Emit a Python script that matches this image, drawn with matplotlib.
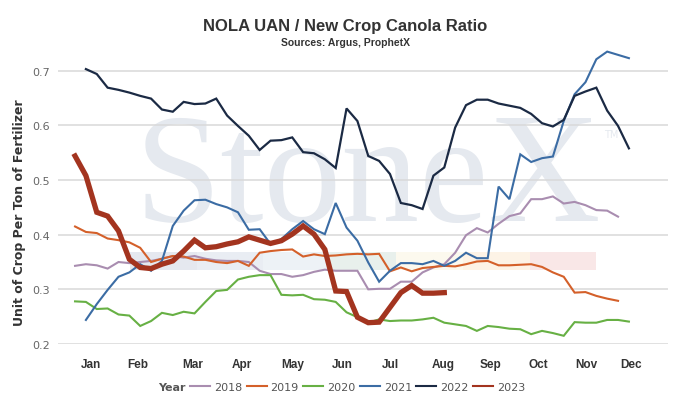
import matplotlib
matplotlib.use("Agg")
import matplotlib.pyplot as plt
from matplotlib import font_manager
from matplotlib.lines import Line2D
from matplotlib.patches import Rectangle

# weekly ratio values
years = ['2018', '2019', '2020', '2021', '2022', '2023']
first_week = [0, 0, 0, 1, 1, 0]

ratio_2018 = [0.343, 0.346, 0.344, 0.338, 0.350, 0.348, 0.350, 0.352, 0.356, 0.361, 0.358, 0.361, 0.356, 0.353,
              0.352, 0.352, 0.350, 0.334, 0.328, 0.328, 0.323, 0.326, 0.332, 0.336, 0.334, 0.334, 0.334, 0.300,
              0.301, 0.301, 0.314, 0.314, 0.331, 0.340, 0.346, 0.367, 0.399, 0.412, 0.404, 0.420, 0.434, 0.439,
              0.465, 0.465, 0.470, 0.457, 0.460, 0.454, 0.445, 0.444, 0.433]
ratio_2019 = [0.415, 0.405, 0.403, 0.393, 0.390, 0.386, 0.376, 0.350, 0.356, 0.361, 0.360, 0.354, 0.354, 0.350,
              0.348, 0.352, 0.343, 0.367, 0.370, 0.372, 0.373, 0.360, 0.364, 0.361, 0.362, 0.364, 0.365, 0.364,
              0.365, 0.333, 0.340, 0.333, 0.339, 0.341, 0.343, 0.342, 0.346, 0.351, 0.352, 0.344, 0.344, 0.345,
              0.346, 0.341, 0.331, 0.323, 0.294, 0.295, 0.288, 0.283, 0.279]
ratio_2020 = [0.278, 0.277, 0.264, 0.265, 0.254, 0.252, 0.233, 0.242, 0.257, 0.253, 0.259, 0.256, 0.277, 0.297,
              0.299, 0.318, 0.323, 0.326, 0.326, 0.290, 0.289, 0.290, 0.282, 0.281, 0.277, 0.258, 0.249, 0.239,
              0.245, 0.242, 0.243, 0.243, 0.245, 0.248, 0.239, 0.236, 0.233, 0.224, 0.233, 0.231, 0.228, 0.227,
              0.218, 0.224, 0.220, 0.215, 0.240, 0.239, 0.239, 0.244, 0.244, 0.241]
ratio_2021 = [0.244, 0.273, 0.299, 0.323, 0.331, 0.346, 0.334, 0.352, 0.416, 0.444, 0.463, 0.464, 0.456,
              0.450, 0.441, 0.409, 0.410, 0.383, 0.392, 0.410, 0.425, 0.410, 0.401, 0.458, 0.413, 0.389, 0.349,
              0.314, 0.334, 0.348, 0.348, 0.346, 0.352, 0.343, 0.352, 0.367, 0.357, 0.357, 0.488, 0.465, 0.547,
              0.533, 0.540, 0.543, 0.608, 0.657, 0.679, 0.721, 0.735, 0.729, 0.723]
ratio_2022 = [0.703, 0.694, 0.669, 0.665, 0.660, 0.654, 0.649, 0.629, 0.625, 0.643, 0.639, 0.640, 0.649,
              0.618, 0.599, 0.581, 0.555, 0.572, 0.573, 0.578, 0.551, 0.549, 0.538, 0.522, 0.631, 0.608, 0.544,
              0.535, 0.511, 0.458, 0.454, 0.447, 0.508, 0.523, 0.596, 0.637, 0.647, 0.647, 0.640, 0.636, 0.632,
              0.621, 0.604, 0.598, 0.610, 0.654, 0.662, 0.669, 0.627, 0.599, 0.558]
ratio_2023 = [0.544, 0.508, 0.441, 0.434, 0.407, 0.355, 0.340, 0.338, 0.346, 0.352, 0.370, 0.390, 0.376, 0.378,
              0.383, 0.387, 0.396, 0.390, 0.384, 0.389, 0.401, 0.416, 0.401, 0.373, 0.297, 0.296, 0.249, 0.239,
              0.240, 0.267, 0.294, 0.307, 0.293, 0.293, 0.294]

months = ['Jan', 'Feb', 'Mar', 'Apr', 'May', 'Jun', 'Jul', 'Aug', 'Sep', 'Oct', 'Nov', 'Dec']
month_week = [1.47, 5.80, 10.87, 15.38, 20.07, 24.59, 29.01, 33.89, 38.21, 42.63, 47.05, 51.20]
y_ticks = [0.2, 0.3, 0.4, 0.5, 0.6, 0.7]

all_ratios = [ratio_2018, ratio_2019, ratio_2020, ratio_2021, ratio_2022, ratio_2023]
colors = ['#a98db0', '#d4602a', '#67b044', '#3b6ca4', '#1b2a44', '#a3341f']
widths = [1.5, 1.5, 1.5, 1.5, 1.6, 3.8]

# pick a narrow face if we have one
names = {f.name for f in font_manager.fontManager.ttflist}
narrow = 'Liberation Sans Narrow' if 'Liberation Sans Narrow' in names else 'Liberation Sans'

W, H = 681, 406
fig = plt.figure(figsize=(W / 100, H / 100), dpi=100)
ax = fig.add_axes([58 / W, 61 / H, 610 / W, 300.6 / H])
ax.patch.set_alpha(0)

# StoneX watermark behind everything
ax.text(135 / W, 1 - 221 / H, 'StoneX', transform=fig.transFigure, fontsize=112,
        family='Liberation Serif', color='#e5e9ef', ha='left', va='baseline', zorder=0.1)
ax.text(604 / W, 1 - 138 / H, 'TM', transform=fig.transFigure, fontsize=7,
        color='#e5e9ef', ha='left', va='baseline', zorder=0.1)
band_colors = ['#e5e8ef', '#e9edf3', '#edf2f6', '#e8f0ec', '#fcf9ee', '#fdf3e6', '#f9e7e7']
for i, c in enumerate(band_colors):
    ax.add_patch(Rectangle(((130 + i * 66.6) / W, 1 - 271 / H), 66.6 / W, 18 / H,
                           transform=fig.transFigure, facecolor=c, edgecolor='none', zorder=0.2))

for yr, start, vals, c, lw in zip(years, first_week, all_ratios, colors, widths):
    x = list(range(start, start + len(vals)))
    ax.plot(x, vals, color=c, lw=lw, solid_joinstyle='miter', zorder=2)

ax.set_xlim(-1.57, 54.6)
ax.set_ylim(0.2, 0.75)
ax.set_yticks(y_ticks)
ax.set_yticklabels(['%.1f' % v for v in y_ticks])
ax.set_xticks(month_week)
ax.set_xticklabels(months)
ax.set_axisbelow(True)
ax.yaxis.grid(True, color='#d9d9d9', lw=1.1)
for s in ax.spines.values():
    s.set_visible(False)
ax.tick_params(axis='y', length=0, pad=6, labelsize=8, labelcolor='#666666')
ax.tick_params(axis='x', length=0, pad=10, labelsize=8.5, labelcolor='#333333')
for lab in ax.get_xticklabels():
    lab.set_family(narrow)
    lab.set_fontweight('bold')

ax.set_ylabel('Unit of Crop Per Ton of Fertilizer', fontsize=9, fontweight='bold', color='#333333')
ax.yaxis.set_label_coords(-0.052, 0.44)

fig.text(345 / W, 1 - 27 / H, 'NOLA UAN / New Crop Canola Ratio', ha='center', va='center',
         fontsize=12, fontweight='bold', family='Liberation Sans', color='#333333')
fig.text(345 / W, 1 - 43 / H, 'Sources: Argus, ProphetX', ha='center', va='center',
         fontsize=7.5, fontweight='bold', family='Liberation Sans', color='#333333')

# legend along the bottom
fig.text(158 / W, 1 - 388 / H, 'Year', ha='left', va='center', fontsize=8,
         fontweight='bold', color='#555555')
handles = [Line2D([], [], color=c, lw=1.5) for c in colors]
fig.legend(handles, years, loc='center left', bbox_to_anchor=(190 / W, 1 - 388 / H),
           ncol=6, frameon=False, fontsize=8, labelcolor='#555555', handlelength=1.8,
           handletextpad=0.35, columnspacing=0.4, borderpad=0, borderaxespad=0)

fig.savefig('out.png', dpi=100)
